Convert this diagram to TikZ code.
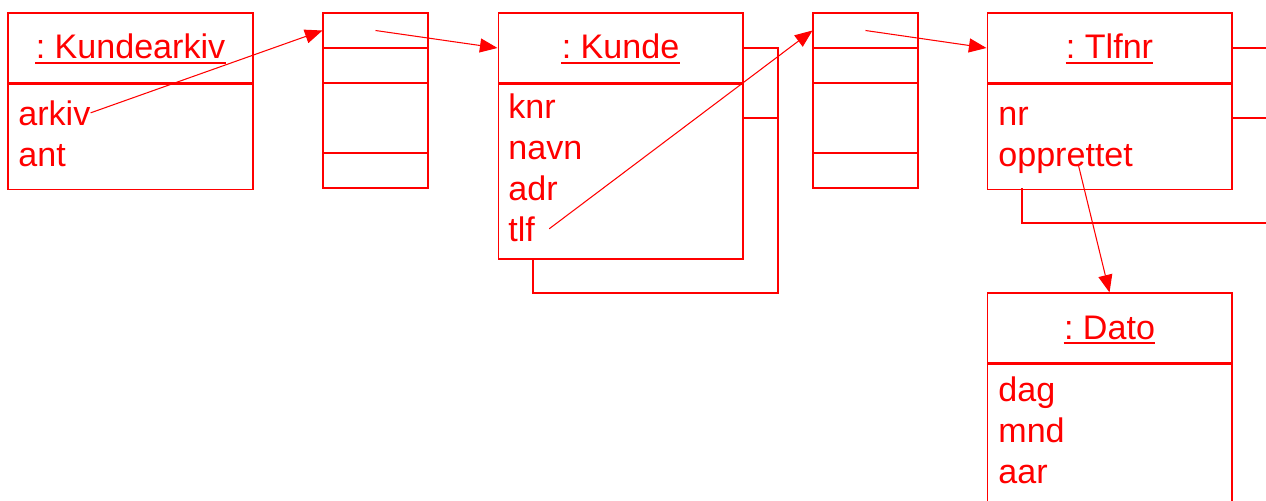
\documentclass[tikz,border=0pt]{standalone}
\usepackage{fontspec}
\setmainfont{Liberation Sans}
\usetikzlibrary{arrows.meta}

\begin{document}
\begin{tikzpicture}[x=0.02cm,y=-0.02cm]
    \tikzstyle{line}=[draw=red,line width=0.6pt]
    \tikzstyle{hd}=[line,rectangle,inner sep=0pt,minimum width=4.9cm,minimum height=1.4cm]
    \tikzstyle{bd}=[line,rectangle,inner sep=0pt,minimum width=4.9cm,anchor=north]
    \tikzstyle{cell}=[line,rectangle,inner sep=0pt,minimum width=2.1cm,minimum height=0.7cm]
    \tikzstyle{title}=[text=red,inner sep=0pt,anchor=base,font=\fontsize{19.4pt}{23pt}\selectfont\frenchspacing]
    \tikzstyle{attr}=[text=red,inner sep=0pt,anchor=base west,font=\fontsize{19.4pt}{23pt}\selectfont]
    \tikzstyle{ptr}=[draw=red,line width=0.6pt,-{Triangle[length=10pt,width=8pt]}]
    \clip (0,0) rectangle (1266,500);
    % Kundearkiv
    \node[hd] (arkhd) at (130.5,48) {};
    \node[bd,minimum height=2.1cm] (arkbd) at (arkhd.south) {};
    \node[title] (arkt) at (130.5,59) {: Kundearkiv};
    \node[attr] (arkiv) at (18,125) {arkiv};
    \node[attr] (ant) at (18,166) {ant};
    % first array
    \node[cell] (ra) at (375.5,30.5) {};
    \node[cell] (rb) at (375.5,65.5) {};
    \node[cell,minimum height=1.4cm] (rc) at (375.5,118) {};
    \node[cell] (rd) at (375.5,170.5) {};
    % Kunde
    \node[hd] (kunhd) at (620.5,48) {};
    \node[bd,minimum height=3.5cm] (kunbd) at (kunhd.south) {};
    \node[title] (kunt) at (620.5,59) {: Kunde};
    \node[attr] (knr) at (508,118) {knr};
    \node[attr] (navn) at (508,159) {navn};
    \node[attr] (adr) at (508,200) {adr};
    \node[attr] (tlf) at (508,241) {tlf};
    \draw[line] (kunhd.east) -- (778,48) -- (778,293) -- (533,293) -- (533,258);
    \draw[line] (743,118) -- (778,118);
    % second array
    \node[cell] (sa) at (865.5,30.5) {};
    \node[cell] (sb) at (865.5,65.5) {};
    \node[cell,minimum height=1.4cm] (sc) at (865.5,118) {};
    \node[cell] (sd) at (865.5,170.5) {};
    % Tlfnr
    \node[hd] (tlfhd) at (1109.5,48) {};
    \node[bd,minimum height=2.1cm] (tlfbd) at (tlfhd.south) {};
    \node[title] (tlft) at (1109.5,59) {: Tlfnr};
    \node[attr] (nr) at (998,125) {nr};
    \node[attr] (opp) at (998,166) {opprettet};
    \draw[line] (tlfhd.east) -- (1280,48);
    \draw[line] (1232,118) -- (1280,118);
    \draw[line] (1022,188) -- (1022,223) -- (1280,223);
    % Dato
    \node[hd] (dathd) at (1109.5,328) {};
    \node[bd,minimum height=4.2cm] (datbd) at (dathd.south) {};
    \node[title] (datt) at (1109.5,339) {: Dato};
    \node[attr] (dag) at (998,401) {dag};
    \node[attr] (mnd) at (998,442) {mnd};
    \node[attr] (aar) at (998,483) {aar};
    % underlines
    \foreach \t in {arkt,kunt,tlft,datt}
        \draw[draw=red,line width=1.1pt] ([yshift=-2.2pt]\t.base west) -- ([yshift=-2.2pt]\t.base east);
    % pointers
    \draw[ptr] (arkiv.east) -- (ra.west);
    \draw[ptr] (ra.center) -- (kunhd.west);
    \draw[ptr] ([xshift=0.28cm]tlf.east) -- (sa.west);
    \draw[ptr] (sa.center) -- (tlfhd.west);
    \draw[ptr] ([xshift=0.26cm]opp.base) -- (dathd.north);
\end{tikzpicture}
\end{document}
